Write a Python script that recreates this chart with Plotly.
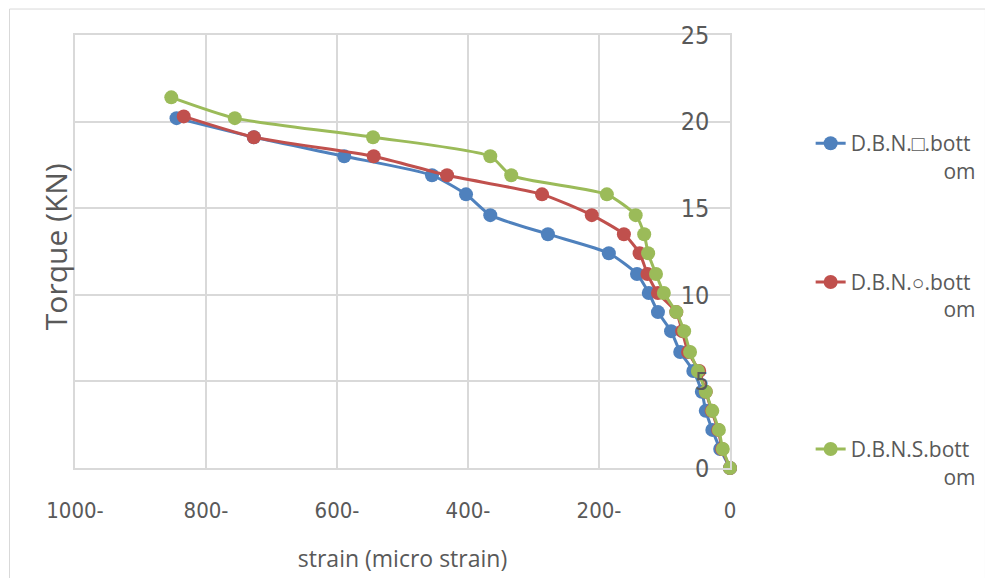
import plotly.graph_objects as go

# Torque levels (kN) shared by all gauges
torque_sq = [0, 1.1, 2.2, 3.3, 4.4, 5.6, 6.7, 7.9, 9.0, 10.1, 11.2, 12.4, 13.5, 14.6, 15.8, 16.9, 18.0, 19.1, 20.2]
strain_sq = [0, -15, -27, -37, -43, -56, -76, -90, -110, -124, -142, -185, -278, -366, -403, -455, -589, -727, -845]

torque_circ = [0, 1.1, 2.2, 3.3, 4.4, 5.6, 6.7, 7.9, 9.0, 10.1, 11.2, 12.4, 13.5, 14.6, 15.8, 16.9, 18.0, 19.1, 20.3]
strain_circ = [0, -12, -18, -28, -37, -47, -64, -73, -82, -110, -126, -138, -162, -211, -287, -432, -544, -727, -834]

torque_s = [0, 1.1, 2.2, 3.3, 4.4, 5.6, 6.7, 7.9, 9.0, 10.1, 11.2, 12.4, 13.5, 14.6, 15.8, 16.9, 18.0, 19.1, 20.2, 21.4]
strain_s = [0, -11, -17, -27, -37, -49, -61, -70, -82, -101, -113, -125, -131, -144, -188, -334, -366, -545, -756, -853]

x_ticks = [-1000, -800, -600, -400, -200, 0]
x_tick_text = ["1000-", "800-", "600-", "400-", "200-", "0"]
y_ticks = [0, 5, 10, 15, 20, 25]

PAD = "\u00a0" * 17
names = ["D.B.N.\u25a1.bott<br>" + PAD + "om",
         "D.B.N.\u25cb.bott<br>" + PAD + "om",
         "D.B.N.S.bott<br>" + PAD + "om"]
colors = ["#4F81BD", "#C0504D", "#9BBB59"]
series = [(strain_sq, torque_sq), (strain_circ, torque_circ), (strain_s, torque_s)]
legends = ["legend2", "legend3", "legend4"]

NARROW = "Liberation Sans Narrow, Arial Narrow, DejaVu Sans Condensed, sans-serif"
TEXT = "Open Sans, sans-serif"
GREY = "#595959"
GRID = "#D9D9D9"

fig = go.Figure()
for (xs, ys), name, col, lg in zip(series, names, colors, legends):
    fig.add_trace(go.Scatter(
        x=xs, y=ys, name=name, mode="lines+markers",
        line=dict(color=col, width=3, shape="spline", smoothing=0.6),
        marker=dict(color=col, size=14),
        legend=lg, cliponaxis=False,
    ))

legend_common = dict(
    xref="container", yref="container",
    xanchor="left", yanchor="top", valign="top",
    font=dict(family=TEXT, size=21, color=GREY),
    bgcolor="rgba(0,0,0,0)",
)

fig.update_layout(
    width=985, height=578,
    margin=dict(l=75, r=255, t=35, b=110),
    paper_bgcolor="white", plot_bgcolor="white",
    font=dict(family=TEXT, color=GREY),
    showlegend=True,
    legend2=dict(x=0.823, y=0.787, **legend_common),
    legend3=dict(x=0.823, y=0.547, **legend_common),
    legend4=dict(x=0.823, y=0.258, **legend_common),
    xaxis=dict(
        range=[-1000, 0], tickvals=x_ticks, ticktext=x_tick_text,
        showgrid=True, gridcolor=GRID, gridwidth=1.5,
        showline=True, linecolor=GRID, linewidth=1.5, mirror=True,
        zeroline=False, ticks="", ticklabelstandoff=22,
        ticklabeloverflow="allow", automargin=False,
        tickfont=dict(family=NARROW, size=22, color=GREY),
        title=dict(text="strain (micro strain)", standoff=29,
                   font=dict(family=TEXT, size=23, color=GREY)),
    ),
    yaxis=dict(
        range=[0, 25], tickvals=y_ticks, side="right",
        showgrid=True, gridcolor=GRID, gridwidth=1.5,
        showline=True, linecolor=GRID, linewidth=1.5, mirror=True,
        zeroline=False, ticks="", ticklabelposition="inside",
        ticklabelstandoff=23, ticklabeloverflow="allow", automargin=False,
        tickfont=dict(family=NARROW, size=25, color=GREY),
    ),
    annotations=[dict(
        text="Torque (KN)", textangle=-90, xref="paper", yref="paper",
        x=-0.0305, y=0.51, xanchor="center", yanchor="middle", showarrow=False,
        font=dict(family=TEXT, size=30, color=GREY),
    )],
    shapes=[dict(type="rect", xref="paper", yref="paper", layer="below",
                 x0=-0.1, x1=1.39, y0=-0.28, y1=1.06,
                 line=dict(color=GRID, width=1))],
)

fig.write_html("out.html")
